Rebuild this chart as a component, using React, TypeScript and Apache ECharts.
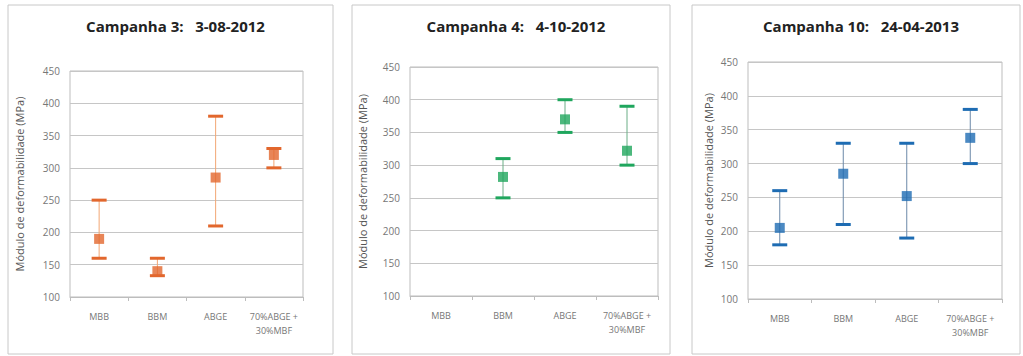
import React, { useEffect, useRef } from "react";
import * as echarts from "echarts";

const categories = ["MBB", "BBM", "ABGE", "70%ABGE +\n30%MBF"];
const yTicks = [100, 150, 200, 250, 300, 350, 400, 450];

const titles = ["Campanha 3:   3-08-2012", "Campanha 4:   4-10-2012", "Campanha 10:   24-04-2013"];

// [categoryIndex, low, high]
const ranges3 = [[0, 160, 250], [1, 133, 160], [2, 210, 380], [3, 300, 330]];
const means3 = [[0, 190], [1, 140], [2, 285], [3, 320]];

const ranges4 = [[1, 250, 310], [2, 350, 400], [3, 300, 390]];
const means4 = [[1, 282], [2, 370], [3, 322]];

const ranges10 = [[0, 180, 260], [1, 210, 330], [2, 190, 330], [3, 300, 380]];
const means10 = [[0, 205], [1, 285], [2, 252], [3, 338]];

const colors = ["#e2672d", "#1fa65d", "#1e6cb3"];
const lineColors = ["#f2a674", "#6aae86", "#6b88a8"];

const grids = [
  { left: 70, top: 71, width: 233, height: 226 },
  { left: 410, top: 67, width: 248, height: 229 },
  { left: 748, top: 62, width: 254, height: 237 },
];
const nameGaps = [45, 42, 34];
const panels = [
  { x: 8, y: 5, w: 325, h: 349 },
  { x: 352, y: 5, w: 318, h: 349 },
  { x: 692, y: 5, w: 328, h: 349 },
];

export default function App() {
  const ref = useRef<HTMLDivElement>(null);
  useEffect(() => {
    if (!ref.current) return;
    const chart = echarts.init(ref.current, null, { renderer: "svg" });
    const allRanges = [ranges3, ranges4, ranges10];
    const allMeans = [means3, means4, means10];

    const renderErr = (color: string, lineColor: string) => (params: any, api: any) => {
      const c = api.value(0);
      const lo = api.coord([c, api.value(1)]);
      const hi = api.coord([c, api.value(2)]);
      const capW = 15;
      return {
        type: "group",
        children: [
          { type: "line", shape: { x1: lo[0], y1: lo[1], x2: hi[0], y2: hi[1] }, style: { stroke: lineColor, lineWidth: 1 } },
          { type: "line", shape: { x1: lo[0] - capW / 2, y1: lo[1], x2: lo[0] + capW / 2, y2: lo[1] }, style: { stroke: color, lineWidth: 3 } },
          { type: "line", shape: { x1: hi[0] - capW / 2, y1: hi[1], x2: hi[0] + capW / 2, y2: hi[1] }, style: { stroke: color, lineWidth: 3 } },
        ],
      };
    };

    const option: any = {
      animation: false,
      backgroundColor: "#ffffff",
      title: titles.map((t, i) => ({
        text: t,
        left: panels[i].x + panels[i].w / 2,
        top: 13,
        textAlign: "center",
        textStyle: { fontFamily: "Open Sans", fontWeight: "bold", fontSize: 15, color: "#222" },
      })),
      graphic: panels.map((p) => ({
        type: "rect",
        shape: { x: p.x, y: p.y, width: p.w, height: p.h },
        style: { fill: "none", stroke: "#c8c8c8", lineWidth: 1 },
        silent: true,
        z: -1,
      })),
      grid: grids.map((g) => ({ ...g, show: true, borderColor: "#bdbdbd", borderWidth: 1 })),
      xAxis: grids.map((_, i) => ({
        type: "category",
        gridIndex: i,
        data: categories,
        boundaryGap: true,
        axisLine: { lineStyle: { color: "#bdbdbd" } },
        axisTick: { show: true, length: 4, lineStyle: { color: "#bdbdbd" } },
        axisLabel: { interval: 0, color: "#777", fontSize: 9, fontFamily: "Open Sans", margin: 12, lineHeight: 14 },
      })),
      yAxis: grids.map((_, i) => ({
        type: "value",
        gridIndex: i,
        min: yTicks[0],
        max: yTicks[yTicks.length - 1],
        interval: 50,
        name: "Módulo de deformabilidade (MPa)",
        nameLocation: "middle",
        nameGap: nameGaps[i],
        nameTextStyle: { color: "#555", fontSize: 11, fontFamily: "Open Sans" },
        axisLine: { show: false },
        axisTick: { show: false },
        splitLine: { lineStyle: { color: "#c6c6c6" } },
        axisLabel: { color: "#777", fontSize: 10, fontFamily: "Open Sans", margin: 10 },
      })),
      series: [
        ...allRanges.map((r, i) => ({
          type: "custom",
          xAxisIndex: i,
          yAxisIndex: i,
          data: r,
          renderItem: renderErr(colors[i], lineColors[i]),
          z: 2,
        })),
        ...allMeans.map((m, i) => ({
          type: "scatter",
          xAxisIndex: i,
          yAxisIndex: i,
          data: m,
          symbol: "rect",
          symbolSize: 10,
          itemStyle: { color: colors[i] },
          z: 3,
        })),
      ],
    };
    chart.setOption(option);
    return () => chart.dispose();
  }, []);
  return <div ref={ref} style={{ position: "fixed", left: 0, top: 0, width: 1023, height: 356 }} />;
}
